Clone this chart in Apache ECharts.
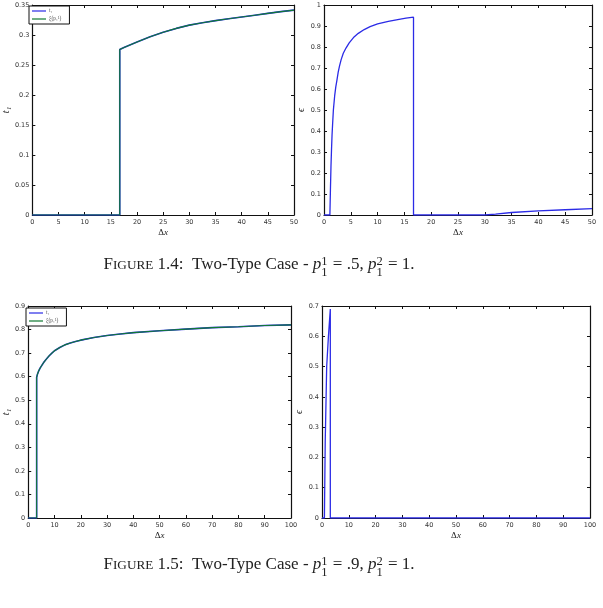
<!DOCTYPE html>
<html>
<head>
<meta charset="UTF-8">
<title>Two-Type Case</title>
<script src="https://cdn.jsdelivr.net/npm/echarts@6/dist/echarts.min.js"></script>
<style>
  *{margin:0;padding:0;}
  body{background:#fff;}
  #main{width:603px;height:608px;}
</style>
</head>
<body>
<div id="main"></div>
<script>
// Figure 1.4 (p1^1 = .5) : left panel t1 and xi(p1^1), right panel epsilon
var f4LeftX  = [0, 10, 16.7, 16.7, 17.5, 20, 22.5, 25, 27.5, 30, 32.5, 35, 37.5, 40, 42.5, 45, 47.5, 50];
var f4LeftT  = [0, 0, 0, 0.2757, 0.2793, 0.2885, 0.297, 0.3045, 0.311, 0.3165, 0.3205, 0.324, 0.327, 0.330, 0.333, 0.336, 0.339, 0.3415];
var f4LeftXi = [0, 0, 0, 0.2757, 0.2793, 0.2885, 0.297, 0.3045, 0.311, 0.3165, 0.3205, 0.324, 0.327, 0.330, 0.333, 0.336, 0.339, 0.3415];

var f4RightX   = [0, 1.1, 1.2, 1.3, 1.4, 1.5, 1.6, 1.75, 2, 2.2, 2.4, 2.65, 2.9, 3.2, 3.6, 4.1, 4.7, 5.5, 6.4, 7.5, 8.6, 10, 11, 12, 13, 14, 15.3, 16.7, 16.7, 30, 32, 35, 40, 45, 50];
var f4RightEps = [0, 0, 0.12, 0.23, 0.31, 0.38, 0.43, 0.5, 0.57, 0.61, 0.64, 0.68, 0.71, 0.74, 0.77, 0.795, 0.82, 0.845, 0.865, 0.883, 0.897, 0.91, 0.916, 0.922, 0.927, 0.932, 0.937, 0.942, 0, 0, 0.004, 0.012, 0.02, 0.025, 0.03];

// Figure 1.5 (p1^1 = .9)
var f5LeftX  = [0, 3.2, 3.2, 3.5, 4, 4.5, 5, 6, 7, 8, 9, 10, 12, 14, 16, 18, 20, 25, 30, 35, 40, 50, 60, 70, 80, 90, 100];
var f5LeftT  = [0, 0, 0.597, 0.61, 0.625, 0.636, 0.645, 0.662, 0.676, 0.689, 0.70, 0.71, 0.724, 0.735, 0.743, 0.749, 0.755, 0.766, 0.775, 0.781, 0.787, 0.795, 0.802, 0.808, 0.812, 0.817, 0.82];
var f5LeftXi = [0, 0, 0.597, 0.61, 0.625, 0.636, 0.645, 0.662, 0.676, 0.689, 0.70, 0.71, 0.724, 0.735, 0.743, 0.749, 0.755, 0.766, 0.775, 0.781, 0.787, 0.795, 0.802, 0.808, 0.812, 0.817, 0.82];

var f5RightX   = [0, 0.9, 1.2, 1.75, 2.4, 3.1, 3.1, 100];
var f5RightEps = [0, 0, 0.25, 0.5, 0.6, 0.69, 0, 0];

var blue = '#2b2be6', green = '#117a33';

function pairs(xs, ys){
  var out = [];
  for (var i = 0; i < xs.length; i++) out.push([xs[i], ys[i]]);
  return out;
}

var myChart = echarts.init(document.getElementById('main'), null, {renderer:'canvas'});

var grids = [
  {left:27,  top:5,   width:267, height:210},
  {left:324, top:5,   width:268, height:210},
  {left:23,  top:306, width:268, height:212},
  {left:322, top:306, width:268, height:212}
];

var panelAxes = [
  {xmax:50,  xint:5,  ymax:0.35, yint:0.05, yname:'t\u2081', gap:19},
  {xmax:50,  xint:5,  ymax:1,    yint:0.1,  yname:'\u03f5',   gap:13},
  {xmax:100, xint:10, ymax:0.9,  yint:0.1,  yname:'t\u2081', gap:16},
  {xmax:100, xint:10, ymax:0.7,  yint:0.1,  yname:'\u03f5',   gap:14}
];

var xAxes = [], yAxes = [];
var lineAx = {onZero:false, lineStyle:{color:'#111', width:1.2}};
var tickIn = {inside:true, length:3, lineStyle:{color:'#111'}};
panelAxes.forEach(function(p, i){
  xAxes.push({
    type:'value', gridIndex:i, min:0, max:p.xmax, interval:p.xint,
    axisLine:lineAx, axisTick:tickIn, splitLine:{show:false},
    axisLabel:{fontSize:6.5, color:'#333', margin:4, fontFamily:'DejaVu Sans'},
    name:'{d|\u0394}{x|x}', nameLocation:'middle', nameGap:13,
    nameTextStyle:{rich:{
      d:{fontFamily:'Liberation Serif', fontSize:9, color:'#222'},
      x:{fontFamily:'Liberation Serif', fontStyle:'italic', fontSize:9, color:'#222'}
    }}
  });
  xAxes.push({
    type:'value', gridIndex:i, position:'top', min:0, max:p.xmax, interval:p.xint,
    axisLine:lineAx, axisTick:tickIn, splitLine:{show:false}, axisLabel:{show:false}
  });
  yAxes.push({
    type:'value', gridIndex:i, min:0, max:p.ymax, interval:p.yint,
    axisLine:lineAx, axisTick:tickIn, splitLine:{show:false},
    axisLabel:{fontSize:6.5, color:'#333', margin:3, fontFamily:'DejaVu Sans'},
    name:p.yname, nameLocation:'middle', nameGap:p.gap, nameRotate:90,
    nameTextStyle:{fontFamily:'Liberation Serif', fontStyle:'italic', fontSize:10, color:'#222'}
  });
  yAxes.push({
    type:'value', gridIndex:i, position:'right', min:0, max:p.ymax, interval:p.yint,
    axisLine:lineAx, axisTick:tickIn, splitLine:{show:false}, axisLabel:{show:false}
  });
});

function line(name, data, xi, yi, color, w){
  return {
    name:name, type:'line', data:data, xAxisIndex:xi, yAxisIndex:yi,
    showSymbol:false, symbol:'none', animation:false,
    lineStyle:{color:color, width:w}, itemStyle:{color:color}
  };
}

var tName = 't\u2081', xiName = '\u03be(p\u2081\u00b9)';
var series = [
  line(tName,  pairs(f4LeftX, f4LeftT),  0, 0, blue, 1.6),
  line(xiName, pairs(f4LeftX, f4LeftXi), 0, 0, green, 1.1),
  line('eps4', pairs(f4RightX, f4RightEps), 2, 2, blue, 1.3),
  line(tName,  pairs(f5LeftX, f5LeftT),  4, 4, blue, 1.6),
  line(xiName, pairs(f5LeftX, f5LeftXi), 4, 4, green, 1.1),
  line('eps5', pairs(f5RightX, f5RightEps), 6, 6, blue, 1.3)
];

function legendAt(left, top){
  return {
    left:left, top:top, orient:'vertical', data:[tName, xiName],
    selectedMode:false, icon:'rect', itemWidth:14, itemHeight:1.2, itemGap:2,
    padding:[2,8,2,3], borderColor:'#111', borderWidth:1, backgroundColor:'#fff',
    textStyle:{fontSize:5.5, color:'#555', fontFamily:'Liberation Serif', padding:[0,0,0,-2]}
  };
}

// caption built piece by piece (small caps + stacked super/subscripts)
var ctx = document.createElement('canvas').getContext('2d');
function measure(txt, size, italic){
  ctx.font = (italic ? 'italic ' : '') + size + 'px "Liberation Serif"';
  return ctx.measureText(txt).width;
}
function caption(num, val, baseline){
  var s = 17, sm = 12.5, sc = 13.2;
  var parts = [
    {t:'F', size:s}, {t:'IGURE', size:sc}, {t:' ' + num + ':  Two-Type Case - ', size:s},
    {t:'p', size:s, it:true}, {sup:'1', sub:'1'},
    {t:' = ' + val + ', ', size:s},
    {t:'p', size:s, it:true}, {sup:'2', sub:'1'},
    {t:' = 1.', size:s}
  ];
  var total = 0;
  parts.forEach(function(p){
    p.w = p.sup ? measure(p.sup, sm) + 1 : measure(p.t, p.size, p.it);
    total += p.w;
  });
  var x = 259 - total / 2, els = [];
  parts.forEach(function(p){
    if (p.sup){
      els.push({type:'text', left:x, top:baseline - 16, silent:true,
        style:{text:p.sup, font:sm + 'px "Liberation Serif"', fill:'#222'}});
      els.push({type:'text', left:x, top:baseline - 5, silent:true,
        style:{text:p.sub, font:sm + 'px "Liberation Serif"', fill:'#222'}});
    } else {
      els.push({type:'text', left:x, top:baseline - p.size * 0.9, silent:true,
        style:{text:p.t, font:(p.it ? 'italic ' : '') + p.size + 'px "Liberation Serif"', fill:'#222'}});
    }
    x += p.w;
  });
  return els;
}

var option = {
  animation:false,
  backgroundColor:'#fff',
  grid:grids.map(function(g){ return Object.assign({containLabel:false}, g); }),
  xAxis:xAxes,
  yAxis:yAxes,
  legend:[legendAt(29, 6), legendAt(26, 308)],
  series:series,
  graphic:caption('1.4', '.5', 271).concat(caption('1.5', '.9', 571))
};

myChart.setOption(option);
</script>
</body>
</html>
